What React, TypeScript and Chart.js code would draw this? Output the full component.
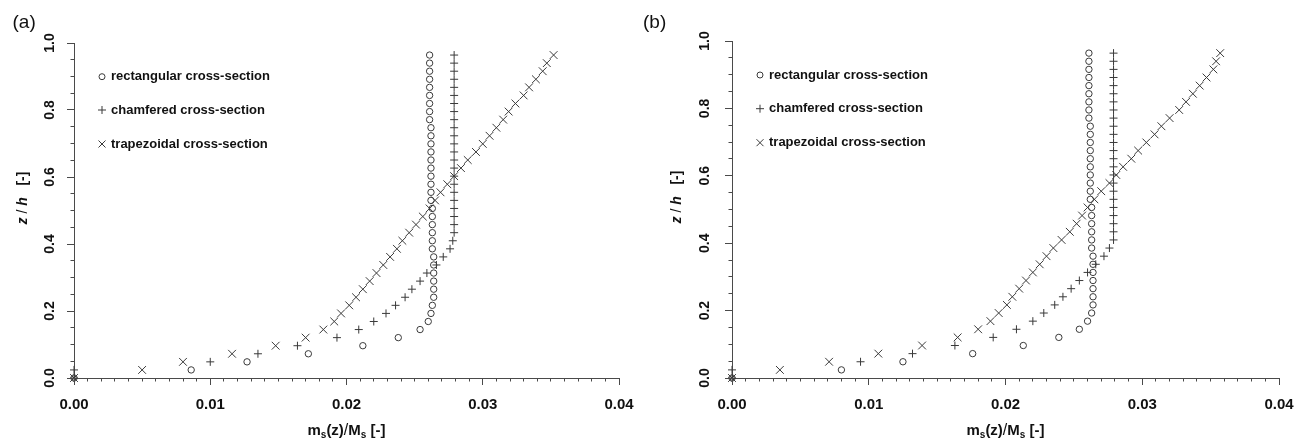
import React, { useEffect, useRef } from 'react';
import { Chart, registerables } from 'chart.js';

Chart.register(...registerables);

// ---------- data ----------
const Z_VALUES = [
  0, 0.0241, 0.0482, 0.0723, 0.0964, 0.1205, 0.1446, 0.1687, 0.1928, 0.2169,
  0.241, 0.2651, 0.2892, 0.3133, 0.3374, 0.3615, 0.3856, 0.4097, 0.4338, 0.4579,
  0.482, 0.5061, 0.5302, 0.5543, 0.5784, 0.6025, 0.6266, 0.6507, 0.6748, 0.6989,
  0.723, 0.7471, 0.7712, 0.7953, 0.8194, 0.8435, 0.8676, 0.8917, 0.9158, 0.9399,
  0.964,
];

const RECT_A = [
  0, 0.0086, 0.0127, 0.0172, 0.0212, 0.0238, 0.0254, 0.026, 0.0262, 0.0263,
  0.0264, 0.0264, 0.0264, 0.0264, 0.0264, 0.0264, 0.0263, 0.0263, 0.0263, 0.0263,
  0.0263, 0.0263, 0.0262, 0.0262, 0.0262, 0.0262, 0.0262, 0.0262, 0.0262, 0.0262,
  0.0262, 0.0262, 0.0261, 0.0261, 0.0261, 0.0261, 0.0261, 0.0261, 0.0261, 0.0261,
  0.0261,
];
const CHAMF_A = [
  0, 0, 0.01, 0.0135, 0.0164, 0.0193, 0.0209, 0.022, 0.0229, 0.0236,
  0.0243, 0.0248, 0.0254, 0.0259, 0.0266, 0.0271, 0.0276, 0.0278, 0.0279, 0.0279,
  0.0279, 0.0279, 0.0279, 0.0279, 0.0279, 0.0279, 0.0279, 0.0279, 0.0279, 0.0279,
  0.0279, 0.0279, 0.0279, 0.0279, 0.0279, 0.0279, 0.0279, 0.0279, 0.0279, 0.0279,
  0.0279,
];
const TRAP_A = [
  0, 0.005, 0.008, 0.0116, 0.0148, 0.017, 0.0183, 0.0191, 0.0196, 0.0202,
  0.0207, 0.0212, 0.0217, 0.0222, 0.0227, 0.0232, 0.0237, 0.0241, 0.0246, 0.0251,
  0.0256, 0.0261, 0.0265, 0.0269, 0.0274, 0.0279, 0.0284, 0.0289, 0.0295, 0.03,
  0.0305, 0.031, 0.0315, 0.0319, 0.0324, 0.033, 0.0334, 0.0339, 0.0344, 0.0347,
  0.0352,
];

const RECT_B = [
  0, 0.008, 0.0125, 0.0176, 0.0213, 0.0239, 0.0254, 0.026, 0.0263, 0.0264,
  0.0264, 0.0264, 0.0264, 0.0264, 0.0264, 0.0264, 0.0263, 0.0263, 0.0263, 0.0263,
  0.0263, 0.0263, 0.0262, 0.0262, 0.0262, 0.0262, 0.0262, 0.0262, 0.0262, 0.0262,
  0.0262, 0.0262, 0.0261, 0.0261, 0.0261, 0.0261, 0.0261, 0.0261, 0.0261, 0.0261,
  0.0261,
];
const CHAMF_B = [
  0, 0, 0.0094, 0.0132, 0.0163, 0.0191, 0.0208, 0.022, 0.0228, 0.0236,
  0.0242, 0.0248, 0.0254, 0.026, 0.0266, 0.0272, 0.0276, 0.0279, 0.0279, 0.0279,
  0.0279, 0.0279, 0.0279, 0.0279, 0.0279, 0.0279, 0.0279, 0.0279, 0.0279, 0.0279,
  0.0279, 0.0279, 0.0279, 0.0279, 0.0279, 0.0279, 0.0279, 0.0279, 0.0279, 0.0279,
  0.0279,
];
const TRAP_B = [
  0, 0.0035, 0.0071, 0.0107, 0.0139, 0.0165, 0.018, 0.0189, 0.0195, 0.0201,
  0.0205, 0.021, 0.0215, 0.022, 0.0225, 0.023, 0.0235, 0.0241, 0.0247, 0.0252,
  0.0256, 0.026, 0.0265, 0.027, 0.0276, 0.0281, 0.0286, 0.0292, 0.0297, 0.0303,
  0.0309, 0.0314, 0.032, 0.0327, 0.0332, 0.0337, 0.0342, 0.0347, 0.0352, 0.0354,
  0.0357,
];

const SERIES_NAMES = ['rectangular cross-section', 'chamfered cross-section', 'trapezoidal cross-section'];
const X_TICK_VALUES = [0, 0.01, 0.02, 0.03, 0.04];
const X_TICK_LABELS = ['0.00', '0.01', '0.02', '0.03', '0.04'];
const Y_TICK_VALUES = [0, 0.2, 0.4, 0.6, 0.8, 1.0];
const Y_TICK_LABELS = ['0.0', '0.2', '0.4', '0.6', '0.8', '1.0'];
const PANEL_LABELS = ['(a)', '(b)'];

// ---------- styles ----------
const FONT = "'Liberation Sans', Arial, Helvetica, sans-serif";
const AXIS_COLOR = '#4a4a4a';
const MARK_COLOR = '#3a3a3a';
const TEXT_COLOR = '#111111';

type PanelCfg = {
  left: number;
  width: number;
  padRight: number;
  padTop: number;
  yAxisW: number;
  label: string;
  labelX: number;
  legendMarkerX: number;
  legendTextX: number;
  legendRows: number[];
  yTitleX: number;
  yTitleY: number;
  yTickOffset: number;
  rect: number[];
  chamf: number[];
  trap: number[];
};

const PANELS: PanelCfg[] = [
  {
    left: 0, width: 640, padRight: 21, padTop: 43, yAxisW: 74,
    label: PANEL_LABELS[0], labelX: 12.5,
    legendMarkerX: 102, legendTextX: 111, legendRows: [76.7, 110, 144],
    yTitleX: 23.5, yTitleY: 198, yTickOffset: 24,
    rect: RECT_A, chamf: CHAMF_A, trap: TRAP_A,
  },
  {
    left: 640, width: 664, padRight: 25, padTop: 41, yAxisW: 92,
    label: PANEL_LABELS[1], labelX: 3,
    legendMarkerX: 120, legendTextX: 129, legendRows: [75, 108.7, 142.7],
    yTitleX: 36.7, yTitleY: 197, yTickOffset: 27,
    rect: RECT_B, chamf: CHAMF_B, trap: TRAP_B,
  },
];

type Seg = { text: string; font: string; dy?: number };

function drawSegments(ctx: CanvasRenderingContext2D, segs: Seg[], cx: number, y: number) {
  let total = 0;
  segs.forEach((s) => {
    ctx.font = s.font;
    total += ctx.measureText(s.text).width;
  });
  let x = cx - total / 2;
  ctx.textAlign = 'left';
  segs.forEach((s) => {
    ctx.font = s.font;
    ctx.fillText(s.text, x, y + (s.dy || 0));
    x += ctx.measureText(s.text).width;
  });
}

function align(p: number) {
  return Math.round(p - 0.5) + 0.5;
}

function makeOverlay(cfg: PanelCfg) {
  return {
    id: 'overlay',
    afterDraw(chart: any) {
      const ctx: CanvasRenderingContext2D = chart.ctx;
      const xs = chart.scales.x;
      const ys = chart.scales.y;
      const { left, bottom } = chart.chartArea;
      ctx.save();

      // major tick marks
      ctx.strokeStyle = AXIS_COLOR;
      ctx.lineWidth = 1;
      ctx.beginPath();
      X_TICK_VALUES.forEach((v) => {
        const px = align(xs.getPixelForValue(v));
        ctx.moveTo(px, bottom);
        ctx.lineTo(px, bottom + 7);
      });
      Y_TICK_VALUES.forEach((v) => {
        const py = align(ys.getPixelForValue(v));
        ctx.moveTo(left - 7, py);
        ctx.lineTo(left, py);
      });
      ctx.stroke();

      ctx.fillStyle = TEXT_COLOR;
      // x tick labels
      ctx.font = `bold 15px ${FONT}`;
      ctx.textAlign = 'center';
      ctx.textBaseline = 'middle';
      X_TICK_VALUES.forEach((v, i) => {
        ctx.fillText(X_TICK_LABELS[i], xs.getPixelForValue(v), bottom + 26.5);
      });
      // y tick labels (rotated)
      ctx.font = `bold 14px ${FONT}`;
      Y_TICK_VALUES.forEach((v, i) => {
        ctx.save();
        ctx.translate(left - cfg.yTickOffset, ys.getPixelForValue(v));
        ctx.rotate(-Math.PI / 2);
        ctx.textAlign = 'center';
        ctx.textBaseline = 'middle';
        ctx.fillText(Y_TICK_LABELS[i], 0, 0);
        ctx.restore();
      });

      // x title
      ctx.textBaseline = 'alphabetic';
      const xc = (xs.getPixelForValue(0) + xs.getPixelForValue(0.04)) / 2;
      drawSegments(ctx, [
        { text: 'm', font: `bold 15px ${FONT}` },
        { text: 's', font: `bold 10px ${FONT}`, dy: 3 },
        { text: '(z)', font: `bold 15px ${FONT}` },
        { text: '/', font: `16px ${FONT}` },
        { text: 'M', font: `bold 15px ${FONT}` },
        { text: 's', font: `bold 10px ${FONT}`, dy: 3 },
        { text: ' [-]', font: `bold 15px ${FONT}` },
      ], xc, bottom + 57);

      // y title (rotated)
      ctx.save();
      ctx.translate(cfg.yTitleX, cfg.yTitleY);
      ctx.rotate(-Math.PI / 2);
      ctx.textBaseline = 'middle';
      drawSegments(ctx, [
        { text: 'z', font: `italic bold 14px ${FONT}` },
        { text: ' / ', font: `14px ${FONT}` },
        { text: 'h', font: `italic bold 14px ${FONT}` },
        { text: '   [-]', font: `bold 14px ${FONT}` },
      ], 0, 0);
      ctx.restore();

      // panel label
      ctx.font = `19px ${FONT}`;
      ctx.textAlign = 'left';
      ctx.textBaseline = 'alphabetic';
      ctx.fillText(cfg.label, cfg.labelX, 27.5);

      // legend
      ctx.strokeStyle = MARK_COLOR;
      ctx.lineWidth = 1;
      cfg.legendRows.forEach((ry, i) => {
        const mx = cfg.legendMarkerX;
        ctx.beginPath();
        if (i === 0) {
          ctx.arc(mx, ry, 3, 0, Math.PI * 2);
        } else if (i === 1) {
          ctx.moveTo(mx - 4, ry); ctx.lineTo(mx + 4, ry);
          ctx.moveTo(mx, ry - 4); ctx.lineTo(mx, ry + 4);
        } else {
          ctx.moveTo(mx - 3.5, ry - 3.5); ctx.lineTo(mx + 3.5, ry + 3.5);
          ctx.moveTo(mx + 3.5, ry - 3.5); ctx.lineTo(mx - 3.5, ry + 3.5);
        }
        ctx.stroke();
        ctx.fillStyle = TEXT_COLOR;
        ctx.font = `bold 13px ${FONT}`;
        ctx.textAlign = 'left';
        ctx.textBaseline = 'middle';
        ctx.fillText(SERIES_NAMES[i], cfg.legendTextX, ry);
      });

      ctx.restore();
    },
  };
}

function toPoints(xs: number[]) {
  return xs.map((x, i) => ({ x, y: Z_VALUES[i] }));
}

function Panel({ cfg }: { cfg: PanelCfg }) {
  const ref = useRef<HTMLCanvasElement | null>(null);
  useEffect(() => {
    if (!ref.current) return;
    const common = {
      showLine: false,
      borderColor: MARK_COLOR,
      backgroundColor: 'rgba(0,0,0,0)',
      borderWidth: 1,
      clip: false as any,
    };
    const chart = new Chart(ref.current, {
      type: 'scatter',
      data: {
        datasets: [
          { ...common, label: SERIES_NAMES[0], data: toPoints(cfg.rect), pointStyle: 'circle', pointRadius: 3.2 },
          { ...common, label: SERIES_NAMES[1], data: toPoints(cfg.chamf), pointStyle: 'cross', pointRadius: 4 },
          { ...common, label: SERIES_NAMES[2], data: toPoints(cfg.trap), pointStyle: 'crossRot', pointRadius: 5.5 },
        ],
      },
      options: {
        responsive: false,
        animation: false,
        events: [],
        layout: { padding: { left: 0, right: cfg.padRight, top: cfg.padTop, bottom: 0 } },
        plugins: { legend: { display: false }, tooltip: { enabled: false }, title: { display: false } },
        scales: {
          x: {
            type: 'linear',
            min: 0,
            max: 0.04,
            afterFit: (s: any) => { s.height = 65; },
            ticks: { display: false, stepSize: 0.001, autoSkip: false },
            grid: { display: true, drawOnChartArea: false, drawTicks: true, tickLength: 3.5, color: AXIS_COLOR, lineWidth: 1 },
            border: { display: true, color: AXIS_COLOR, width: 1 },
          },
          y: {
            type: 'linear',
            min: 0,
            max: 1,
            afterFit: (s: any) => { s.width = cfg.yAxisW; },
            ticks: { display: false, stepSize: 0.05, autoSkip: false },
            grid: { display: true, drawOnChartArea: false, drawTicks: true, tickLength: 3.5, color: AXIS_COLOR, lineWidth: 1 },
            border: { display: true, color: AXIS_COLOR, width: 1 },
          },
        },
      } as any,
      plugins: [makeOverlay(cfg)],
    });
    return () => chart.destroy();
  }, [cfg]);
  return (
    <canvas
      ref={ref}
      width={cfg.width}
      height={443}
      style={{ position: 'absolute', left: cfg.left, top: 0, width: cfg.width, height: 443, display: 'block' }}
    />
  );
}

export default function App() {
  return (
    <div style={{ position: 'absolute', left: 0, top: 0, width: 1304, height: 443, background: '#ffffff', overflow: 'hidden' }}>
      {PANELS.map((p, i) => (
        <Panel key={i} cfg={p} />
      ))}
    </div>
  );
}
